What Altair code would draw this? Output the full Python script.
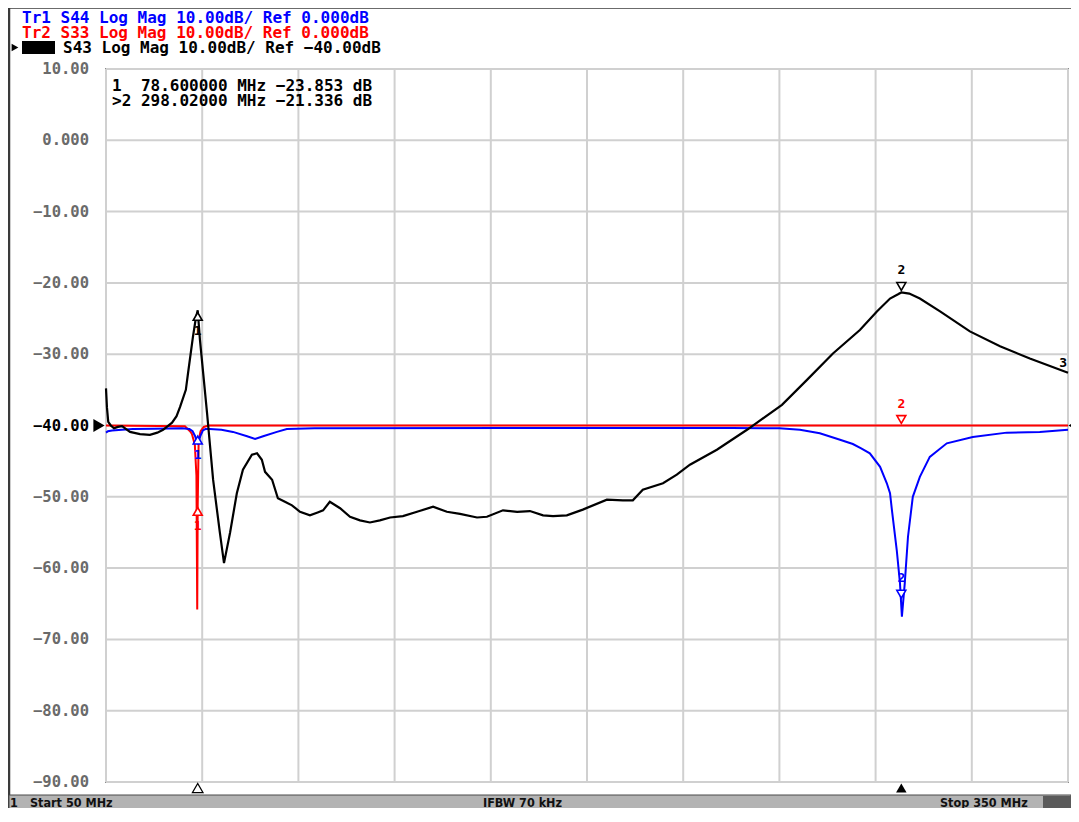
import altair as alt
import pandas as pd

# ---------------- data ----------------
black_freq = [50.0, 50.3, 50.7, 51.5, 52.5, 53.7, 55.0, 57.5, 60.6, 63.7, 66.0, 67.8, 70.6, 72.0,
              73.1, 74.9, 75.6, 77.1, 78.0, 78.6, 79.3, 81.5, 83.4, 85.5, 86.8, 88.7, 90.8, 92.7,
              95.5, 97.1, 98.6, 99.6, 101.8, 103.6, 105.8, 108.0, 110.5, 113.6, 116.0, 117.7, 119.8,
              123.0, 126.1, 129.2, 132.3, 135.4, 138.6, 142.6, 147.0, 152.0, 156.3, 160.4, 165.7,
              168.8, 173.8, 178.2, 182.2, 186.3, 189.4, 193.7, 198.7, 206.2, 211.2, 214.3, 217.4,
              223.7, 228.0, 232.1, 240.5, 249.9, 260.8, 268.6, 276.7, 285.1, 290.4, 294.5, 297.0,
              298.02, 300.5, 303.8, 310.1, 319.4, 328.8, 338.1, 350.0]
black_db = [-34.8, -37.5, -39.5, -40.0, -40.4, -40.2, -40.1, -40.9, -41.2, -41.3, -41.0, -40.6,
            -39.6, -38.7, -37.4, -35.0, -32.6, -27.6, -25.0, -23.853, -28.0, -38.2, -47.6, -55.0,
            -59.3, -55.0, -49.5, -46.2, -44.1, -43.9, -44.8, -46.5, -47.6, -50.2, -50.7, -51.2,
            -52.1, -52.6, -52.2, -51.9, -50.7, -51.6, -52.8, -53.3, -53.6, -53.3, -52.9, -52.7,
            -52.1, -51.4, -52.1, -52.4, -52.9, -52.8, -51.9, -52.1, -52.0, -52.6, -52.7, -52.6,
            -51.8, -50.4, -50.5, -50.5, -49.0, -48.1, -46.9, -45.5, -43.4, -40.6, -37.1, -33.6,
            -29.9, -26.6, -24.0, -22.2, -21.6, -21.336, -21.5, -22.2, -24.0, -26.8, -28.9, -30.6,
            -32.6]

red_freq = [50.0, 74.6, 76.2, 76.8, 77.7, 78.2, 78.45, 78.6, 78.9, 79.5, 80.5, 82.0, 350.0]
red_db = [-40.0, -40.1, -40.8, -41.2, -42.7, -47.0, -65.8, -51.2, -42.0, -40.8, -40.2, -40.0, -40.0]

blue_freq = [50.0, 50.6, 51.9, 55.0, 58.4, 65.0, 73.7, 76.0, 77.0, 77.8, 78.3, 78.6, 78.9, 79.4,
             80.2, 81.0, 82.4, 86.0, 89.6, 94.0, 96.5, 99.0, 103.3, 106.4, 115.0, 200.0, 245.0,
             260.0, 266.4, 272.6, 278.9, 282.9, 285.5, 288.2, 291.4, 293.5, 294.5, 295.1, 296.6,
             297.6, 298.2, 299.1, 300.1, 301.6, 303.8, 306.9, 312.2, 320.3, 330.9, 341.2, 350.0]
blue_db = [-41.0, -40.8, -40.7, -40.6, -40.5, -40.45, -40.4, -40.5, -40.8, -41.5, -42.3, -42.5,
           -42.3, -41.5, -40.7, -40.5, -40.5, -40.6, -40.9, -41.5, -41.9, -41.5, -40.9, -40.5,
           -40.4, -40.35, -40.35, -40.4, -40.6, -41.1, -42.0, -42.6, -43.2, -43.9, -45.8, -48.1,
           -49.5, -51.9, -57.5, -62.1, -66.8, -62.1, -55.6, -50.0, -47.2, -44.4, -42.5, -41.6,
           -41.0, -40.9, -40.6]

marker_freq = [78.6, 298.02]
marker_labels = ["1", "2"]
black_marker_db = [-23.853, -21.336]
red_marker_db = [-51.2, -40.0]
blue_marker_db = [-41.2, -64.5]

y_ticks = [10, 0, -10, -20, -30, -40, -50, -60, -70, -80, -90]
y_tick_labels = ["10.00", "0.000", "\u221210.00", "\u221220.00", "\u221230.00", "\u221240.00",
                 "\u221250.00", "\u221260.00", "\u221270.00", "\u221280.00", "\u221290.00"]
x_ticks = [50, 80, 110, 140, 170, 200, 230, 260, 290, 320, 350]
ref_level = -40.0

NB = "\u00a0"
header_lines = ["Tr1 S44 Log Mag 10.00dB/ Ref 0.000dB",
                "Tr2 S33 Log Mag 10.00dB/ Ref 0.000dB",
                "S43 Log Mag 10.00dB/ Ref \u221240.00dB"]
header_colors = ["#0000ff", "#ff0000", "#000000"]
readout_lines = [NB + "1" + NB * 2 + "78.600000 MHz \u221223.853 dB",
                 ">2 298.02000 MHz \u221221.336 dB"]
status_texts = ["1", "Start 50 MHz", "IFBW 70 kHz", "Stop 350 MHz"]

# ---------------- build ----------------
W, H = 962, 713
MONO = "DejaVu Sans Mono"
COND = "Liberation Sans Narrow, DejaVu Sans Condensed, Liberation Sans, DejaVu Sans, sans-serif"
xs = alt.Scale(domain=[50, 350], nice=False, zero=False)
ys = alt.Scale(domain=[-90, 10], nice=False, zero=False)
GRID = "#d0d0d0"

black_df = pd.DataFrame({"freq": black_freq, "db": black_db})
red_df = pd.DataFrame({"freq": red_freq, "db": red_db})
blue_df = pd.DataFrame({"freq": blue_freq, "db": blue_db})
ytick_df = pd.DataFrame({"db": y_ticks, "t": y_tick_labels,
                         "c": ["#000000" if v == ref_level else "#6a6a6a" for v in y_ticks]})
xtick_df = pd.DataFrame({"freq": x_ticks})

rows = []
for tr, col, vals in [("black", "#000000", black_marker_db), ("red", "#ff0000", red_marker_db),
                      ("blue", "#0000ff", blue_marker_db)]:
    for f, v, lab in zip(marker_freq, vals, marker_labels):
        rows.append({"freq": f, "db": v, "label": lab, "color": col})
mk_df = pd.DataFrame(rows)

X = alt.X("freq:Q", scale=xs, axis=None)
Y = alt.Y("db:Q", scale=ys, axis=None)

# grid and tick labels (drawn through the scales)
grid_v = alt.Chart(xtick_df).mark_rule(color=GRID, strokeWidth=2).encode(
    x=X, y=alt.value(0), y2=alt.value(H))
grid_h = alt.Chart(ytick_df).mark_rule(color=GRID, strokeWidth=2).encode(
    y=Y, x=alt.value(0), x2=alt.value(W))
ylabels = alt.Chart(ytick_df).mark_text(font=MONO, fontSize=15.5, fontWeight="bold",
                                        align="right", baseline="middle").encode(
    x=alt.value(-17), y=Y, text="t:N", color=alt.Color("c:N", scale=None))

red_line = alt.Chart(red_df).mark_line(color="#ff0000", strokeWidth=2).encode(x=X, y=Y)
blue_line = alt.Chart(blue_df).mark_line(color="#0000ff", strokeWidth=2).encode(x=X, y=Y)
black_line = alt.Chart(black_df).mark_line(color="#000000", strokeWidth=2.2).encode(x=X, y=Y)

m1 = alt.Chart(mk_df).transform_filter("datum.label == '1'")
m2 = alt.Chart(mk_df).transform_filter("datum.label == '2'")
tri1 = m1.mark_point(shape="triangle-up", size=80, fill="white", fillOpacity=1,
                     strokeWidth=1.6, yOffset=6).encode(
    x=X, y=Y, stroke=alt.Stroke("color:N", scale=None))
tri2 = m2.mark_point(shape="triangle-down", size=80, fill="white", fillOpacity=1,
                     strokeWidth=1.6, yOffset=-6).encode(
    x=X, y=Y, stroke=alt.Stroke("color:N", scale=None))
lab1 = m1.mark_text(font=MONO, fontSize=13, fontWeight="bold", dy=21).encode(
    x=X, y=Y, text="label:N", color=alt.Color("color:N", scale=None))
lab2 = m2.mark_text(font=MONO, fontSize=13, fontWeight="bold", dy=-22).encode(
    x=X, y=Y, text="label:N", color=alt.Color("color:N", scale=None))

# marker "3" at the end of the black trace
end_df = pd.DataFrame({"freq": [black_freq[-1]], "db": [black_db[-1]], "t": ["3"]})
lab3 = alt.Chart(end_df).mark_text(font=MONO, fontSize=13, fontWeight="bold", align="right",
                                   dx=-1, dy=-10).encode(x=X, y=Y, text="t:N")

# stimulus markers under the plot
bot_df = pd.DataFrame({"freq": marker_freq, "label": marker_labels})
bot1 = alt.Chart(bot_df).transform_filter("datum.label == '1'").mark_point(
    shape="triangle-up", size=110, fill="white", fillOpacity=1, stroke="black",
    strokeWidth=1.3).encode(x=X, y=alt.value(719))
bot2 = alt.Chart(bot_df).transform_filter("datum.label == '2'").mark_point(
    shape="triangle-up", size=110, filled=True, color="black", opacity=1).encode(
    x=X, y=alt.value(719))

# reference level arrows
ref_df = pd.DataFrame({"db": [ref_level]})
ref_l = alt.Chart(ref_df).mark_point(shape="triangle-right", size=170, filled=True,
                                     color="black", opacity=1).encode(x=alt.value(-7), y=Y)
ref_r = alt.Chart(ref_df).mark_point(shape="triangle-left", size=170, filled=True,
                                     color="black", opacity=1).encode(x=alt.value(968), y=Y)

one = pd.DataFrame({"a": [0]})


def text_at(txt, px, py, **kw):
    return alt.Chart(one).mark_text(align="left", baseline="middle", **kw).encode(
        x=alt.value(px), y=alt.value(py), text=alt.value(txt))


# header lines
hdr_x = [-84, -84, -43]
hdr_y = [-51.5, -36.5, -21.5]
header = [text_at(t, hx, hy, font=MONO, fontSize=16, fontWeight="bold", color=c)
          for t, c, hx, hy in zip(header_lines, header_colors, hdr_x, hdr_y)]
hdr_box = alt.Chart(one).mark_rect(color="black").encode(
    x=alt.value(-84), x2=alt.value(-51), y=alt.value(-28), y2=alt.value(-15))
hdr_arrow = alt.Chart(one).mark_point(shape="triangle-right", size=60, filled=True,
                                      color="black", opacity=1).encode(
    x=alt.value(-91), y=alt.value(-21.5))

# marker readout
readout = [text_at(t, 6, py, font=MONO, fontSize=16, fontWeight="bold", color="black")
           for t, py in zip(readout_lines, [16.5, 31.5])]

# frame lines
frame_left = alt.Chart(one).mark_rule(color="#3a3a3a", strokeWidth=2.5).encode(
    x=alt.value(-97), y=alt.value(-61), y2=alt.value(739))
frame_top = alt.Chart(one).mark_rule(color="#3a3a3a", strokeWidth=1.5).encode(
    x=alt.value(-98), x2=alt.value(965), y=alt.value(-61))

# status bar
status_bg = alt.Chart(one).mark_rect(color="#b3b3b3", stroke="#4a4a4a", strokeWidth=1).encode(
    x=alt.value(-97), x2=alt.value(965), y=alt.value(726), y2=alt.value(740))
status_box = alt.Chart(one).mark_rect(color="#5a5a5a").encode(
    x=alt.value(937), x2=alt.value(965), y=alt.value(727), y2=alt.value(740))
status = [text_at(t, px, 733.5, font=COND, fontSize=12.5, fontWeight="bold", color="#111111")
          for t, px in zip(status_texts, [-96, -76, 377, 834])]

chart = alt.layer(
    grid_v, grid_h, ylabels, red_line, blue_line, black_line, tri1, tri2, lab1, lab2, lab3,
    bot1, bot2, ref_l, ref_r, *header, hdr_box, hdr_arrow, *readout, frame_left, frame_top,
    status_bg, status_box, *status
).properties(
    width=W, height=H,
    autosize=alt.AutoSizeParams(type="none"),
    padding={"left": 98, "top": 61, "right": 3, "bottom": 26},
    background="white",
).configure_view(stroke="#8c8c8c", strokeWidth=2)

chart.save("out.html", embed_options={"renderer": "svg", "actions": False})
